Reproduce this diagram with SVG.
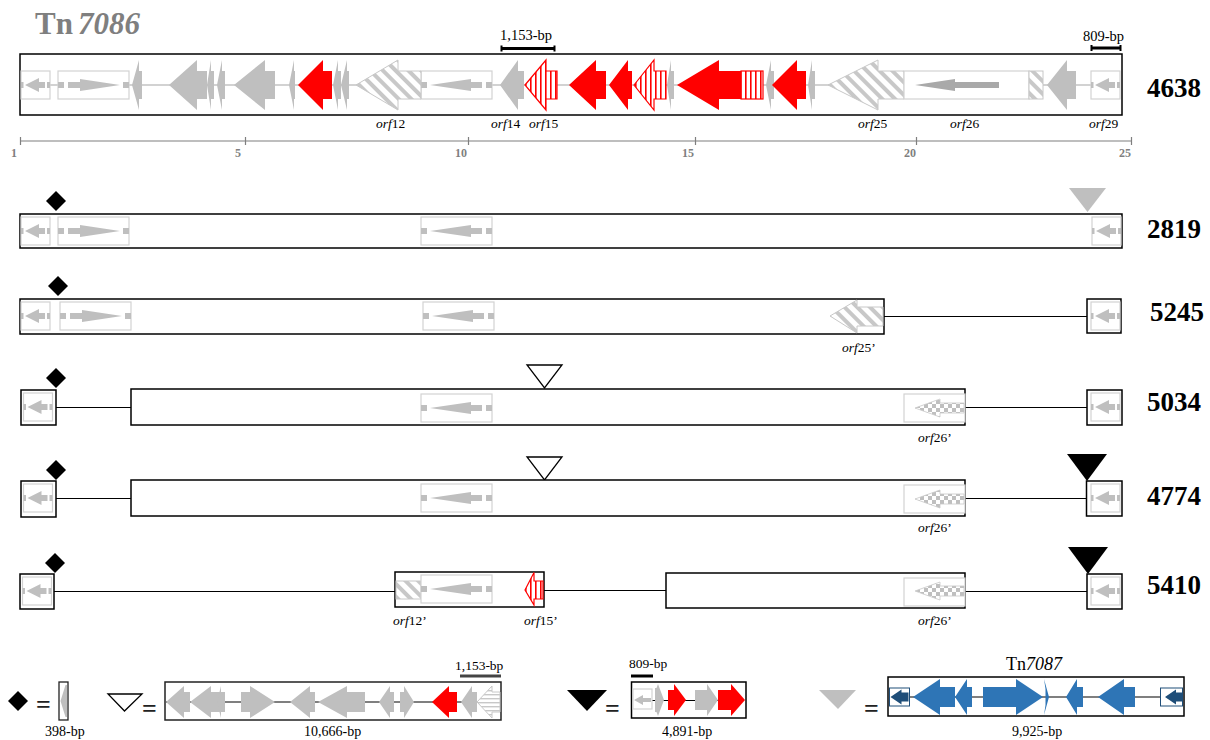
<svg xmlns="http://www.w3.org/2000/svg" width="1210" height="740" viewBox="0 0 1210 740">
<style>
text{font-family:"Liberation Serif","Times New Roman",serif;fill:#000}
.g{fill:#bfbfbf}
.r{fill:#f00}
.b{fill:#2e75b6}
.d{fill:#1f4e79}
.in{fill:#fff;stroke:#d2d2d2;stroke-width:1.2}
.box{fill:#fff;stroke:#000;stroke-width:1.5}
.nb{fill:none;stroke:#000;stroke-width:1.5}
.gh{fill:url(#hatch);stroke:#c8c8c8;stroke-width:1}
.gc{fill:url(#check);stroke:#c8c8c8;stroke-width:.8}
.rh{fill:url(#rstripe);stroke:#f00;stroke-width:1.2}
.bl{fill:none;stroke:#c4c4c4;stroke-width:1.5}
.dl{fill:none;stroke:#7f7f7f;stroke-width:2}
.k{fill:none;stroke:#000;stroke-width:1}
.num{font-size:27px;font-weight:bold}
.orf{font-size:13.500px}
.bp{font-size:14.500px}
.tick{font-size:12px;font-weight:bold;fill:#7f7f7f}
.eq{font-size:26px;font-weight:bold;fill:#222}
.bar{fill:none;stroke:#000;stroke-width:3}
.sc{fill:none;stroke:#7f7f7f;stroke-width:1.2}
</style>
<defs>
<pattern id="hatch" width="9" height="9" patternUnits="userSpaceOnUse" patternTransform="rotate(-45)"><rect width="9" height="9" fill="#fff"/><rect width="4" height="9" fill="#c8c8c8"/></pattern>
<pattern id="check" width="8" height="8" patternUnits="userSpaceOnUse"><rect width="8" height="8" fill="#fff"/><rect width="4" height="4" fill="#bfbfbf"/><rect x="4" y="4" width="4" height="4" fill="#bfbfbf"/></pattern>
<pattern id="rstripe" width="5" height="5" patternUnits="userSpaceOnUse"><rect width="5" height="5" fill="#fff"/><rect width="1.600" height="5" fill="#f00"/></pattern>
<pattern id="gstripe" width="4" height="4" patternUnits="userSpaceOnUse"><rect width="4" height="4" fill="#fff"/><rect width="4" height="1.400" fill="#c8c8c8"/></pattern>
<g id="isL"><rect class="in" x="0" y="-14" width="29" height="28"/><path class="g" d="M0-3h2.500v6H0zM26-3h3v6h-3zM4 0l14-7v4h6v6h-6v4z"/></g>
<g id="isR"><rect class="in" x="0" y="-14" width="71" height="28"/><path class="g" d="M0-3h6v6H0zM65-3h6v6h-6zM10-3h12v-3l40 6-40 6v-3H10z"/></g>
<g id="mid"><rect class="in" x="0" y="-14" width="71" height="28"/><path class="g" d="M0-3h6v6H0zM65-3h6v6h-6zM9 0l41-6v3h11v6H50v3z"/></g>
<polygon id="dia" points="0,-10 10,0 0,10 -10,0" fill="#000"/>
</defs>

<g id="connectors">
<path class="bl" d="M50 85H58M129 85H1091"/>
<path class="k" d="M884 316.500H1087M56 407.500H131M965 407.500H1087M56 498.500H131M965 498.500H1087M54 591.500H395M544 590.500H666M965 591.500H1087"/>
<path class="dl" d="M166 702H500"/>
<path class="k" d="M652 700.500H718"/>
<path class="dl" d="M890 697H1160"/>
</g>

<g id="title"><text x="35" y="34" font-size="31" font-weight="bold" style="fill:#7f7f7f">Tn<tspan x="78" font-style="italic">7086</tspan></text></g>

<g id="scale-bars">
<path class="bar" d="M501 48.500H555M1091 48H1121"/><path d="M501.500 45.500v6M554.500 45.500v6M1091.500 45v6M1120.500 45v6" stroke="#000" stroke-width="2" fill="none"/>
<text class="bp" x="500" y="40">1,153-bp</text><text class="bp" x="1083" y="41">809-bp</text>
</g>

<g id="row-4638">
<rect x="20" y="54" width="1102" height="61" fill="none" stroke="#000" stroke-width="1.5"/>
<use href="#isL" x="21" y="85"/><use href="#isR" x="58" y="85"/><use href="#mid" x="421" y="85"/>
<g transform="translate(0,85)">
<polygon class="g" points="132,0 139,-25 139,-14 142,-14 142,14 139,14 139,25"/>
<polygon class="g" points="169,0 197,-25 197,-14 207,-14 207,14 197,14 197,25"/>
<polygon class="g" points="207,0 211,-25 211,-14 214,-14 214,14 211,14 211,25"/>
<polygon class="g" points="217,0 222,-25 222,-14 225,-14 225,14 222,14 222,25"/>
<polygon class="g" points="234,0 265,-25 265,-14 275,-14 275,14 265,14 265,25"/>
<polygon class="g" points="289,0 294,-25 294,-14 295,-14 295,14 294,14 294,25"/>
<polygon class="r" points="298,0 323,-25 323,-14 332,-14 332,14 323,14 323,25"/>
<polygon class="g" points="333,0 338,-25 338,-14 341,-14 341,14 338,14 338,25"/>
<polygon class="g" points="341,0 347,-25 347,-14 349,-14 349,14 347,14 347,25"/>
<polygon class="gh" points="356,0 398,-25 398,-14 421,-14 421,14 398,14 398,25"/>
<polygon class="g" points="500,0 518,-25 518,-14 524,-14 524,14 518,14 518,25"/>
<polygon class="rh" points="525,0 546,-25 546,-14 557,-14 557,14 546,14 546,25"/>
<polygon class="r" points="569,0 596,-25 596,-14 606,-14 606,14 596,14 596,25"/>
<polygon class="r" points="609,0 628,-25 628,-14 632,-14 632,14 628,14 628,25"/>
<polygon class="rh" points="634,0 654,-25 654,-14 666,-14 666,14 654,14 654,25"/>
<polygon class="g" points="667,0 671,-25 671,-14 674,-14 674,14 671,14 671,25"/>
<polygon class="r" points="677,0 719,-25 719,-14 741,-14 741,14 719,14 719,25"/>
<rect class="rh" x="741" y="-14" width="22" height="28"/>
<polygon class="g" points="766,0 771,-25 771,-14 774,-14 774,14 771,14 771,25"/>
<polygon class="r" points="772,0 797,-25 797,-14 806,-14 806,14 797,14 797,25"/>
<polygon class="g" points="808,0 812,-25 812,-14 815,-14 815,14 812,14 812,25"/>
<polygon class="gh" points="828,0 878,-25 878,-14 904,-14 904,14 878,14 878,25"/>
<rect class="in" x="904" y="-14" width="125" height="28"/>
<polygon fill="#a9a9a9" points="915,0 955,-6 955,-3 999,-3 999,3 955,3 955,6"/>
<rect class="gh" x="1029" y="-14" width="14" height="28"/>
<polygon class="g" points="1047,0 1067,-25 1067,-14 1076,-14 1076,14 1067,14 1067,25"/>
</g>
<use href="#isL" x="1091" y="85"/>
<g class="orf"><text x="376" y="128" font-style="italic">orf<tspan font-style="normal">12</tspan></text><text x="491" y="128" font-style="italic">orf<tspan font-style="normal">14</tspan></text><text x="529" y="128" font-style="italic">orf<tspan font-style="normal">15</tspan></text><text x="858" y="128" font-style="italic">orf<tspan font-style="normal">25</tspan></text><text x="950" y="128" font-style="italic">orf<tspan font-style="normal">26</tspan></text><text x="1089" y="128" font-style="italic">orf<tspan font-style="normal">29</tspan></text></g>
<text class="num" x="1147" y="97">4638</text>
</g>

<g id="ruler">
<path class="sc" d="M20 141H1132M20.500 137v8M245.500 137v8M468.500 137v8M695.500 137v8M916.500 137v8M1131.500 137v8"/>
<text class="tick" x="11" y="157">1</text><text class="tick" x="235" y="157">5</text><text class="tick" x="455" y="157">10</text><text class="tick" x="682" y="157">15</text><text class="tick" x="904" y="157">20</text><text class="tick" x="1119" y="157">25</text>
</g>

<g id="row-2819">
<rect class="nb" x="20" y="214" width="1102" height="34"/>
<use href="#dia" x="56" y="201"/>
<polygon class="g" points="1069,188 1106,188 1087.500,212"/>
<use href="#isL" x="21" y="231"/><use href="#isR" x="58" y="231"/><use href="#mid" x="421" y="231"/><use href="#isL" x="1092" y="231"/>
<text class="num" x="1147" y="238">2819</text>
</g>

<g id="row-5245">
<rect class="nb" x="20" y="299" width="864" height="35"/>
<use href="#dia" x="58" y="286"/>
<use href="#isL" x="21" y="316"/><use href="#isR" x="60" y="316"/><use href="#mid" x="423" y="316"/>
<polygon class="gh" points="830,316 857,300 857,307 883,307 883,326 857,326 857,333"/>
<rect class="box" x="1087" y="299" width="34" height="34"/><use href="#isL" x="1091" y="316"/>
<text class="orf" x="842" y="352" font-style="italic">orf<tspan font-style="normal">25’</tspan></text>
<text class="num" x="1150" y="321">5245</text>
</g>

<g id="row-5034">
<use href="#dia" x="56" y="378"/>
<polygon points="527,365 562,365 544.500,388" fill="#fff" stroke="#000" stroke-width="1.300"/>
<rect class="box" x="21" y="390" width="35" height="35"/><use href="#isL" x="23.500" y="407"/>
<rect class="box" x="131" y="389" width="834" height="36"/>
<use href="#mid" x="421" y="408"/>
<rect class="in" x="904" y="394" width="61" height="28"/>
<polygon class="gc" points="915,408 940,399 940,403 964,403 964,413 940,413 940,417"/>
<rect class="box" x="1087" y="390" width="35" height="35"/><use href="#isL" x="1091" y="407"/>
<text class="orf" x="918" y="442" font-style="italic">orf<tspan font-style="normal">26’</tspan></text>
<text class="num" x="1147" y="411">5034</text>
</g>

<g id="row-4774">
<use href="#dia" x="56" y="470"/>
<polygon points="527,457 562,457 544.500,480" fill="#fff" stroke="#000" stroke-width="1.300"/>
<polygon points="1067,454 1107,454 1087,481" fill="#000"/>
<rect class="box" x="21" y="481" width="35" height="36"/><use href="#isL" x="23.500" y="498"/>
<rect class="box" x="131" y="480" width="834" height="36"/>
<use href="#mid" x="421" y="498"/>
<rect class="in" x="904" y="485" width="61" height="28"/>
<polygon class="gc" points="915,499 940,490 940,494 964,494 964,504 940,504 940,508"/>
<rect class="box" x="1086.500" y="481" width="35.500" height="35"/><use href="#isL" x="1091" y="498"/>
<text class="orf" x="918" y="532" font-style="italic">orf<tspan font-style="normal">26’</tspan></text>
<text class="num" x="1147" y="505">4774</text>
</g>

<g id="row-5410">
<use href="#dia" x="55" y="563"/>
<polygon points="1068,547 1108,547 1088,574" fill="#000"/>
<rect class="box" x="20" y="574" width="34" height="35"/><use href="#isL" x="22.500" y="591"/>
<rect class="box" x="395" y="572" width="149" height="35"/>
<rect class="gh" x="396" y="581" width="25" height="18"/>
<use href="#mid" x="421" y="589"/>
<polygon class="rh" points="525,590 534,572.500 534,581 543,581 543,599 534,599 534,605"/>
<rect class="box" x="666" y="573" width="299" height="35"/>
<rect class="in" x="904" y="578" width="61" height="28"/>
<polygon class="gc" points="915,591 940,582 940,586 964,586 964,596 940,596 940,600"/>
<rect class="box" x="1087" y="574" width="35" height="35"/><use href="#isL" x="1091" y="591"/>
<text class="orf" x="393" y="625" font-style="italic">orf<tspan font-style="normal">12’</tspan></text>
<text class="orf" x="524" y="625" font-style="italic">orf<tspan font-style="normal">15’</tspan></text>
<text class="orf" x="918" y="625" font-style="italic">orf<tspan font-style="normal">26’</tspan></text>
<text class="num" x="1147" y="594">5410</text>
</g>

<g id="legend-diamond">
<use href="#dia" x="18" y="701"/>
<text class="eq" x="36" y="713">=</text>
<rect x="59" y="682" width="9" height="38" fill="#fff" stroke="#222" stroke-width="1.300"/>
<polygon class="g" points="60.500,701 65.500,685 67,685 67,717 65.500,717"/>
<text x="45" y="736" style="font-size:14px">398-bp</text>
</g>

<g id="legend-white">
<polygon points="108,694 142,694 124.500,711" fill="#fff" stroke="#000" stroke-width="1.300"/>
<text class="eq" x="142" y="717">=</text>
<rect x="165" y="682" width="336" height="38" fill="none" stroke="#222" stroke-width="1.500"/>
<g transform="translate(0,702)">
<polygon class="g" points="166,0 184,-16 184,-10 190,-10 190,10 184,10 184,16"/>
<polygon class="g" points="190,0 211,-16 211,-10 220,-10 220,10 211,10 211,16"/>
<polygon class="g" points="217,0 221,-16 221,-10 225,-10 225,10 221,10 221,16"/>
<polygon class="g" points="241,-10 250,-10 250,-16 275,0 250,16 250,10 241,10"/>
<polygon class="g" points="290,0 310,-16 310,-10 315,-10 315,10 310,10 310,16"/>
<polygon class="g" points="318,0 347,-16 347,-10 365,-10 365,10 347,10 347,16"/>
<polygon class="g" points="379,0 390,-16 390,-10 394,-10 394,10 390,10 390,16"/>
<polygon class="g" points="400,-10 404,-10 404,-16 414,0 404,16 404,10 400,10"/>
<polygon class="r" points="432,0 449,-16 449,-10 457,-10 457,10 449,10 449,16"/>
<polygon class="g" points="461,0 472,-16 472,-10 477,-10 477,10 472,10 472,16"/>
<polygon fill="url(#gstripe)" stroke="#c8c8c8" points="477,0 492,-16 492,-10 500,-10 500,10 492,10 492,16"/>
</g>
<path d="M460 676H501" fill="none" stroke="#444" stroke-width="3"/>
<text x="455" y="670" style="font-size:13.500px">1,153-bp</text>
<text x="304" y="736" style="font-size:14px">10,666-bp</text>
</g>

<g id="legend-black">
<polygon points="567,690 607,690 587,711" fill="#000"/>
<text class="eq" x="605" y="717">=</text>
<rect x="631.500" y="682" width="114.500" height="36" fill="none" stroke="#000" stroke-width="1.500"/>
<rect class="in" x="633" y="689" width="19" height="20"/>
<path class="g" d="M634 700l9-5v3h8v4h-8v3z"/>
<g transform="translate(0,700)">
<polygon class="g" points="655,-12 656.500,-12 658,-16 664,0 658,16 656.500,12 655,12"/>
<polygon class="r" points="668,-10 674,-10 674,-16 686,0 674,16 674,10 668,10"/>
<polygon class="g" points="695,-10 707,-10 707,-16 718,0 707,16 707,10 695,10"/>
<polygon class="r" points="718,-10 731,-10 731,-16 745,0 731,16 731,10 718,10"/>
</g>
<path class="bar" d="M631 676H653"/>
<text x="629" y="668" style="font-size:13.500px">809-bp</text>
<text x="662" y="736" style="font-size:14px">4,891-bp</text>
</g>

<g id="legend-tn7087">
<polygon class="g" points="819,690 856,690 838,709"/>
<text class="eq" x="864" y="717">=</text>
<rect x="888" y="677" width="296" height="39" fill="none" stroke="#000" stroke-width="1.500"/>
<g transform="translate(0,697)">
<rect x="889.500" y="-9" width="20" height="18" fill="#fff" stroke="#1f4e79"/>
<path class="d" d="M890.500 0l11-7.500v3h7v9h-7v3z"/>
<polygon class="b" points="913,0 940,-18 940,-10 955,-10 955,10 940,10 940,18"/>
<polygon class="b" points="955,0 967,-18 967,-10 972,-10 972,10 967,10 967,18"/>
<polygon class="b" points="983,-10 1016,-10 1016,-18 1043,0 1016,18 1016,10 983,10"/>
<polygon class="b" points="1044,-18 1049,0 1044,18 1045.500,8 1045.500,-8"/>
<polygon class="b" points="1066,0 1077,-18 1077,-10 1083,-10 1083,10 1077,10 1077,18"/>
<polygon class="b" points="1098,0 1124,-18 1124,-10 1135,-10 1135,10 1124,10 1124,18"/>
<rect x="1160.500" y="-9" width="22" height="18" fill="#fff" stroke="#1f4e79"/>
<path class="d" d="M1165 0l11-7.500v3h6v9h-6v3z"/>
</g>
<text x="1006" y="670" style="font-size:18px">Tn<tspan font-style="italic">7087</tspan></text>
<text x="1012" y="736" style="font-size:14px">9,925-bp</text>
</g>
</svg>
